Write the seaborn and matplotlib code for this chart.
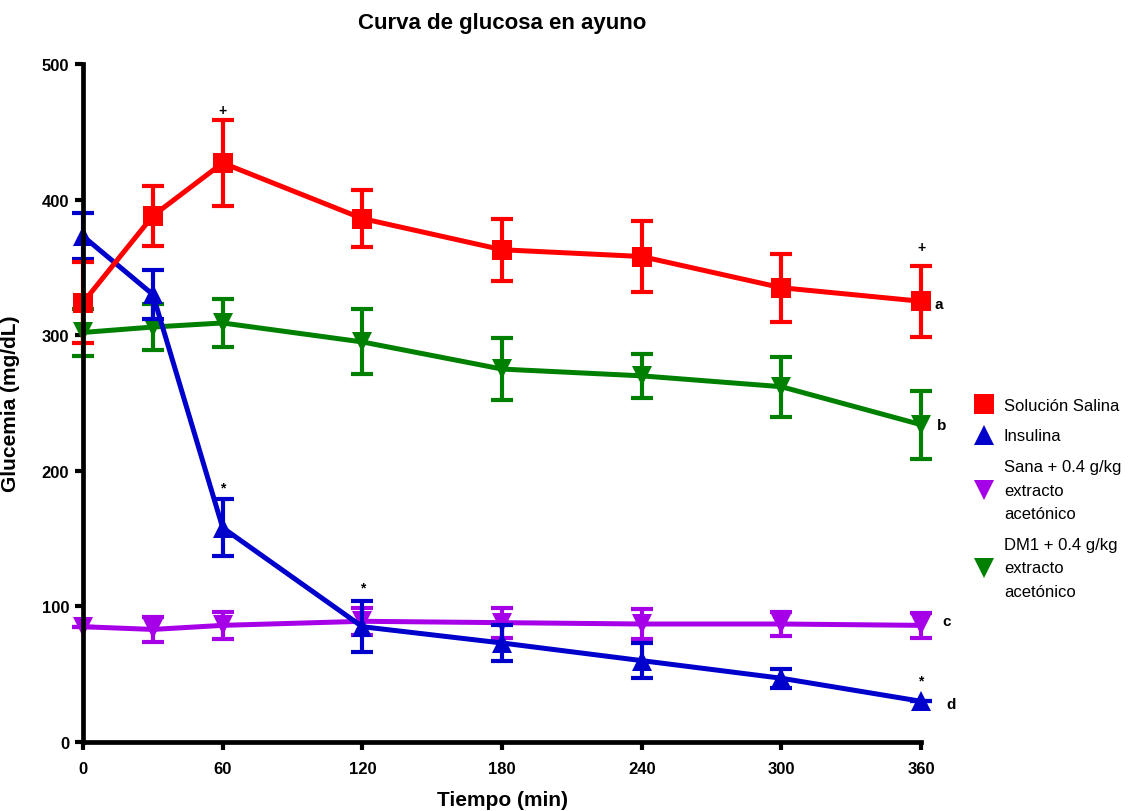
import numpy as np
import pandas as pd
import matplotlib
matplotlib.use("Agg")
import matplotlib.pyplot as plt
from matplotlib.lines import Line2D
import seaborn as sns

# Tiempo de muestreo (min)
tiempo = [0, 30, 60, 120, 180, 240, 300, 360]

# Glucemia media (mg/dL) y error por grupo
salina = [324, 388, 427, 386, 363, 358, 335, 325]
salina_err = [30, 22, 32, 21, 23, 26, 25, 26]

insulina = [373, 330, 158, 85, 73, 60, 47, 30]
insulina_err = [17, 18, 21, 19, 13, 13, 7, 0]

sana = [85, 83, 86, 89, 88, 87, 87, 86]
sana_err = [0, 9, 10, 10, 11, 11, 9, 9]

dm1 = [302, 306, 309, 295, 275, 270, 262, 234]
dm1_err = [17, 17, 18, 24, 23, 16, 22, 25]

grupos = ["Solución Salina", "Insulina",
          "Sana + 0.4 g/kg\nextracto\nacetónico",
          "DM1 + 0.4 g/kg\nextracto\nacetónico"]
colores = ["#FF0000", "#0000CC", "#A600E8", "#008000"]
marcadores = ["s", "^", "v", "v"]

# Marcas de significancia: (tiempo, valor, símbolo)
marcas = [(60, 466, "+"), (360, 365, "+"), (60, 188, "*"),
          (120, 114, "*"), (360, 45, "*")]
# Letras de grupo junto al último punto: (tiempo, valor, letra)
letras = [(367.5, 323, "a"), (369, 234, "b"), (371, 89, "c"), (373, 28, "d")]

series = [salina, insulina, sana, dm1]
errores = [salina_err, insulina_err, sana_err, dm1_err]

df = pd.concat([pd.DataFrame({"tiempo": tiempo, "glucemia": v, "grupo": g})
                for g, v in zip(grupos, series)], ignore_index=True)

sns.set_style("ticks")
plt.rcParams["font.family"] = ["Liberation Sans", "DejaVu Sans"]
plt.rcParams["text.color"] = "black"
plt.rcParams["axes.labelcolor"] = "black"
plt.rcParams["xtick.color"] = "black"
plt.rcParams["ytick.color"] = "black"

fig = plt.figure(figsize=(11.48, 8.12), dpi=100)
ax = fig.add_axes([0.0723, 0.085, 0.730, 0.835])

# Dibujo en orden inverso para que Solución Salina quede arriba
orden = [2, 3, 1, 0]
for z, i in enumerate(orden):
    sub = df[df["grupo"] == grupos[i]]
    sns.lineplot(data=sub, x="tiempo", y="glucemia", ax=ax, color=colores[i],
                 marker=marcadores[i], markersize=14, markeredgewidth=0,
                 linewidth=3.6, legend=False, zorder=3 + z)
    cont = ax.errorbar(tiempo, series[i], yerr=errores[i], fmt="none",
                       ecolor=colores[i], elinewidth=3, capsize=8, capthick=3,
                       zorder=3 + z)
    for art in cont.get_children():
        art.set_clip_on(False)
for ln in ax.lines:
    ln.set_clip_on(False)

for t, v, s in marcas:
    ax.text(t, v, s, ha="center", va="center", fontsize=10, fontweight="bold")
for t, v, s in letras:
    ax.text(t, v, s, ha="center", va="center", fontsize=11, fontweight="bold")

ax.set_xlim(0, 360)
ax.set_ylim(0, 500)
ax.set_xticks([0, 60, 120, 180, 240, 300, 360])
ax.set_yticks([0, 100, 200, 300, 400, 500])
for sp in ["top", "right"]:
    ax.spines[sp].set_visible(False)
for sp in ["left", "bottom"]:
    ax.spines[sp].set_linewidth(3.4)
    ax.spines[sp].set_color("black")
    ax.spines[sp].set_zorder(10)
ax.tick_params(axis="both", width=3, length=6, labelsize=12)
ax.tick_params(axis="y", pad=4)
ax.tick_params(axis="x", pad=8)
for lbl in ax.get_xticklabels() + ax.get_yticklabels():
    lbl.set_fontweight("bold")

ax.set_xlabel("Tiempo (min)", fontsize=15, fontweight="bold", labelpad=10)
ax.set_ylabel("Glucemia (mg/dL)", fontsize=15, fontweight="bold")
ax.yaxis.set_label_coords(-0.075, 0.5)
ax.set_title("Curva de glucosa en ayuno", fontsize=16, fontweight="bold", pad=26)

handles = [Line2D([], [], color=c, marker=m, linestyle="none",
                  markersize=14, markeredgewidth=0)
           for c, m in zip(colores, marcadores)]
leg = ax.legend(handles, grupos, loc="upper left", bbox_to_anchor=(1.045, 0.53),
                frameon=False, fontsize=12, handletextpad=0.6,
                labelspacing=0.95, handlelength=1.2)
for txt in leg.get_texts():
    txt.set_linespacing(1.7)

fig.savefig("out.png", dpi=100)
